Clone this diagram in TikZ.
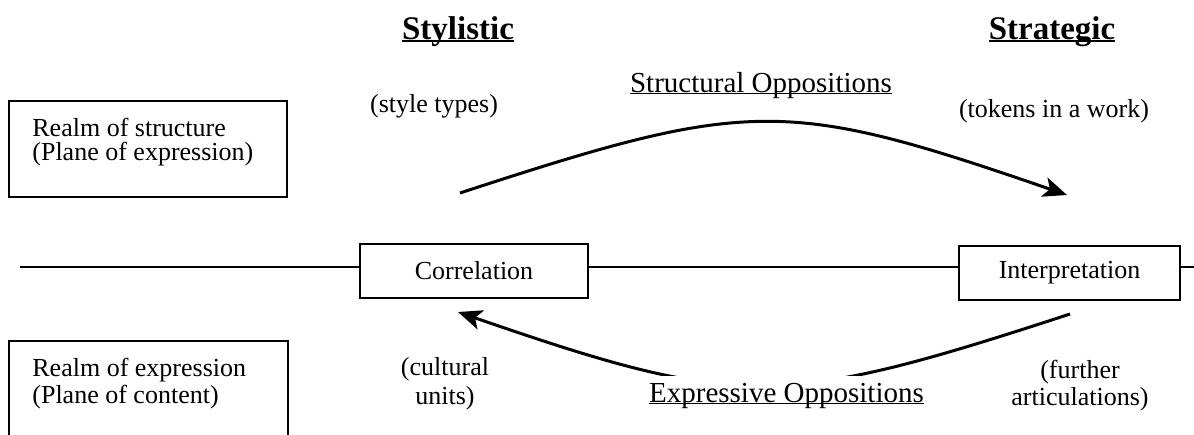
\documentclass[tikz,border=0pt]{standalone}
\usepackage{fontspec}
\setmainfont{Liberation Serif}
\usetikzlibrary{arrows.meta}

% underline at a fixed depth below the baseline (crosses descenders)
\newcommand{\rulebelow}[3]{\setbox0=\hbox{#3}\rlap{\rule[-#1]{\wd0}{#2}}\box0}

\begin{document}
\begin{tikzpicture}[x=0.5pt, y=-0.5pt,
  txt/.style={font=\fontsize{13}{15}\selectfont, inner sep=0pt},
  head/.style={font=\fontsize{16.5}{19}\selectfont\bfseries, inner sep=0pt},
  opp/.style={font=\fontsize{14.5}{17}\selectfont, inner sep=0pt},
  frame/.style={draw, line width=1pt, inner sep=0pt},
  labelbox/.style={frame, minimum height=27pt, font=\fontsize{13}{15}\selectfont},
  axis/.style={line width=1pt},
  arc/.style={line width=1.5pt, -{Stealth[length=12pt, width=10pt, inset=3pt]}}
]
\useasboundingbox (0,0) rectangle (1194,434);
\clip (0,0) rectangle (1194,434);

% column headings
\node[head, anchor=base] (sty) at (458,39) {\rulebelow{1.6pt}{0.9pt}{Stylistic}};
\node[head, anchor=base] (str) at (1052,39) {\rulebelow{1.6pt}{0.9pt}{Strategic}};

% column notes
\node[txt, anchor=base] (types) at (434,112) {(style types)};
\node[txt, anchor=base] (tokens) at (1054,117) {(tokens in a work)};
\node[txt, anchor=base] (cult1) at (445,375) {(cultural};
\node[txt, anchor=base] (cult2) at (445,404) {units)};
\node[txt, anchor=base] (furth1) at (1080,378) {(further};
\node[txt, anchor=base] (furth2) at (1080,405) {articulations)};

% realm boxes
\node[frame, minimum width=139pt, minimum height=48pt] (realmS) at (148,149) {};
\node[txt, anchor=base west] (rs1) at (32,136) {Realm of structure};
\node[txt, anchor=base west] (rs2) at (32,160) {(Plane of expression)};
\node[frame, minimum width=139.5pt, minimum height=70pt, anchor=north west] (realmE) at (8,340) {};
\node[txt, anchor=base west] (re1) at (32,376) {Realm of expression};
\node[txt, anchor=base west] (re2) at (32,403) {(Plane of content)};

% central axis with its two stations
\node[labelbox, minimum width=114pt] (corr) at (474,271) {Correlation};
\node[labelbox, minimum width=110.5pt] (interp) at (1069.5,273) {Interpretation};
\coordinate (axL) at (20,267);
\coordinate (axR) at (1200,267);
\draw[axis] (axL) -- (axL -| corr.west);
\draw[axis] (corr.east |- axL) -- (interp.west |- axL);
\draw[axis] (interp.east |- axL) -- (axR);

% oppositions
\coordinate (s1) at (460,193);
\coordinate (s2) at (1067,195);
\draw[arc] (s1) .. controls (750,98) and (786,98) .. (s2);
\node[opp, anchor=base] (sopp) at (761,92) {\rulebelow{1.2pt}{0.7pt}{Structural Oppositions}};

\coordinate (e1) at (1070,314);
\coordinate (e2) at (458,312);
\draw[arc] (e1) .. controls (780,409) and (739,409) .. (e2);
\node[opp, anchor=base, fill=white, inner sep=3.5pt] (eopp) at (786.5,402) {\rulebelow{1.2pt}{0.7pt}{Expressive Oppositions}};
\end{tikzpicture}
\end{document}
